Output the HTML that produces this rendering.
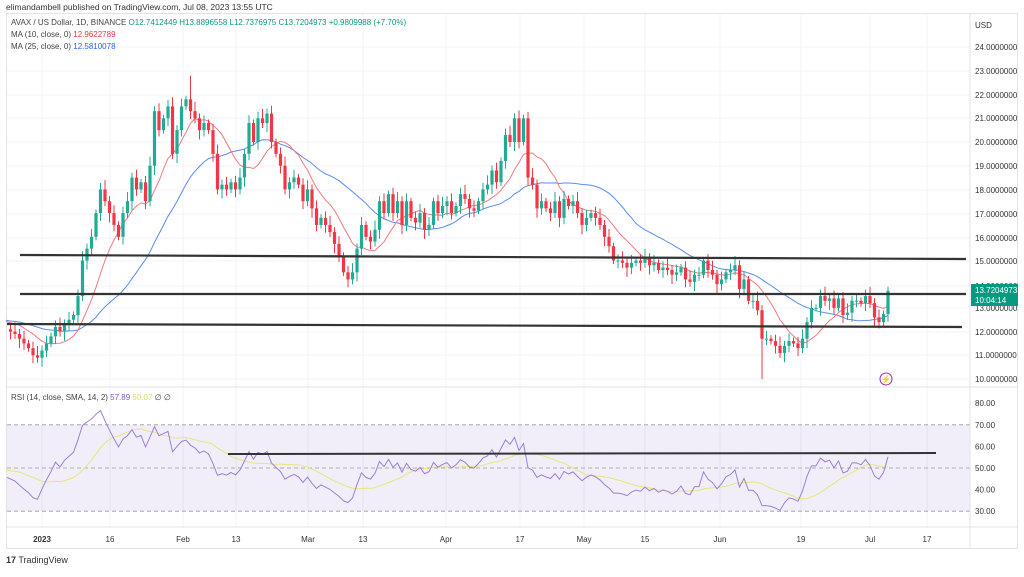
<!DOCTYPE html><html><head><meta charset="utf-8"><style>
body{margin:0;background:#fff;font-family:"Liberation Sans",sans-serif;}
svg text{font-family:"Liberation Sans",sans-serif;}
</style></head><body>
<svg id="s" width="1024" height="572" xmlns="http://www.w3.org/2000/svg">
<defs><clipPath id="cp"><rect x="7" y="388" width="963" height="139"/></clipPath></defs>
<rect width="1024" height="572" fill="#fff"/>
<text x="6" y="10" font-size="8.5" fill="#333">elimandambell published on TradingView.com, Jul 08, 2023 13:55 UTC</text>
<rect x="6.5" y="13.5" width="1011" height="535" fill="none" stroke="#e0e3eb"/>
<g id="g"></g>
<text x="11" y="25" font-size="8" fill="#444">AVAX / US Dollar, 1D, BINANCE  <tspan fill="#089981">O</tspan><tspan fill="#089981">12.7412449  H13.8896558  L12.7376975  C13.7204973  +0.9809988 (+7.70%)</tspan></text>
<text x="11" y="37" font-size="8" fill="#444">MA (10, close, 0) <tspan fill="#f23645">12.9622789</tspan></text>
<text x="11" y="49" font-size="8" fill="#444">MA (25, close, 0) <tspan fill="#2962ff">12.5810078</tspan></text>
<text x="11" y="400" font-size="8" fill="#444">RSI (14, close, SMA, 14, 2) <tspan fill="#7e57c2">57.89</tspan> <tspan fill="#d8d86a">50.07</tspan> ∅ ∅</text>
<text x="6" y="563" font-size="9" fill="#333"><tspan font-weight="bold">17</tspan> TradingView</text>
</svg>
<script>
var C=[12.1,12.0,11.9,11.7,11.5,11.3,11.0,10.9,
11.2,11.5,11.8,12.2,12.0,12.3,12.5,12.7,13.5,15.0,15.5,16,17,18,17.5,17,16.5,16,17,17.5,18.5,18,18.3,17.5,19,21.3,20.5,21,21.5,19.5,20.5,
21.5,21.8,21.3,21.0,20.5,20.8,20.5,19.5,18.0,18.2,18.0,18.3,18.0,18.5,19.5,20.8,20.0,21.0,20.8,21.2,20.0,19.5,19.0,18.0,18.3,18.5,18.2,17.5,
18.0,17.2,16.5,16.8,16.5,16.2,15.7,15.2,14.5,14.2,14.5,15.5,16.5,16.0,15.8,16.3,17.5,17.0,17.8,17.0,17.5,16.5,17.5,16.8,16.6,17.0,16.3,16.5,17.5,17.0,17.3,
17.5,17.0,17.3,17.8,17.6,17.2,17.1,17.5,18.0,18.2,18.8,18.3,19.2,20.3,20.0,21.0,20.0,21.0,18.5,18.2,17.2,17.5,17.2,17.0,17.5,16.8,17.6,17.3,17.5,17.0,
16.5,16.8,17.0,16.8,16.5,16.0,15.6,15.0,15.0,14.9,14.7,14.9,15.0,14.9,15.1,14.8,14.9,14.6,14.7,14.6,14.4,14.5,14.7,14.2,14.1,14.4,14.4,15.0,14.6,14.4,14.0,
14.2,14.5,14.6,14.8,13.8,14.2,13.3,13.3,12.9,11.7,11.7,11.6,11.4,11.1,11.4,11.6,11.5,11.3,11.7,12.4,13.0,13.0,13.5,13.3,13.4,13.0,13.4,12.7,12.8,13.3,
13.3,13.2,13.5,13.2,12.6,12.4,12.74,13.72];
var start=-8;
var X=d=>42+d*4.5, Y=p=>379-(p-10)*23.7, R=r=>468-(r-50)*2.16;
var h='';
var pl=[[24,47],[23,71],[22,95],[21,118],[20,142],[19,166],[18,190],[17,214],[16,238],[15,261],[14,286],[13,308],[12,332],[11,355],[10,379]];
var xl=[['2023',42],['16',110],['Feb',183],['13',236],['Mar',308],['13',363],['Apr',446],['17',520],['May',584],['15',645],['Jun',720],['19',801],['Jul',870],['17',927]];
xl.forEach(a=>h+='<line x1="'+a[1]+'" y1="14" x2="'+a[1]+'" y2="527" stroke="#f0f3fa"/>');
pl.forEach(a=>{h+='<line x1="7" y1="'+a[1]+'" x2="970" y2="'+a[1]+'" stroke="#f0f3fa"/><text x="975" y="'+(a[1]+3)+'" font-size="8" fill="#333">'+a[0]+'.0000000</text>';});
h+='<text x="975" y="28" font-size="8" fill="#333">USD</text>';
h+='<rect x="7" y="'+R(70)+'" width="963" height="'+(R(30)-R(70))+'" fill="#7e57c2" fill-opacity="0.1"/>';
[70,50,30].forEach(v=>h+='<line x1="7" y1="'+R(v)+'" x2="970" y2="'+R(v)+'" stroke="#999" stroke-dasharray="4,3" stroke-width="0.8"/>');
[80,70,60,50,40,30].forEach(v=>h+='<text x="975" y="'+(R(v)+3)+'" font-size="8" fill="#333">'+v+'.00</text>');
h+='<line x1="7" y1="387" x2="1018" y2="387" stroke="#e0e3eb"/><line x1="970" y1="14" x2="970" y2="548" stroke="#e0e3eb"/><line x1="7" y1="527" x2="1018" y2="527" stroke="#e0e3eb"/>';
xl.forEach(a=>h+='<text x="'+a[1]+'" y="542" font-size="8" fill="#333" text-anchor="middle"'+(a[0]=='2023'?' font-weight="bold"':'')+'>'+a[0]+'</text>');
var pad=[];for(var i=0;i<40;i++)pad.push(12.6+0.25*Math.sin(i*1.7)-i*0.004);var A=pad.concat(C);var P=40;
function ma(n,col){var p='';for(var i=0;i<C.length;i++){var k=i+P,s=0;for(var j=0;j<n;j++)s+=A[k-j];p+=(i?'L':'M')+X(start+i).toFixed(1)+','+Y(s/n).toFixed(1);}h+='<path d="'+p+'" fill="none" stroke="'+col+'" stroke-width="1"/>';}
ma(25,'#5b8cf0');ma(10,'#f07a80');
for(var i=1;i<C.length;i++){var o=C[i-1],c=C[i],x=X(start+i),up=c>=o,col=up?'#22ab94':'#f23645';
var hi=Math.max(o,c)+0.15+((i*7)%5)*0.06,lo=Math.min(o,c)-0.15-((i*3)%5)*0.06;
if(i==C.length-1)hi=13.89;if(start+i==160)lo=10.0;if(start+i==33)hi=22.8;
h+='<line x1="'+x+'" y1="'+Y(hi)+'" x2="'+x+'" y2="'+Y(lo)+'" stroke="'+col+'"/>';
var t=Y(Math.max(o,c)),b=Y(Math.min(o,c));h+='<rect x="'+(x-1.6)+'" y="'+t+'" width="3.2" height="'+Math.max(1,b-t)+'" fill="'+col+'"/>';}
var ag=0,al=0,rs=[0];for(var i=1;i<A.length;i++){var d=A[i]-A[i-1],g=Math.max(d,0),l=Math.max(-d,0);if(i<=14){ag+=g/14;al+=l/14;}else{ag=(ag*13+g)/14;al=(al*13+l)/14;}var r=al==0?100:100-100/(1+ag/al);rs.push(50+(r-50)*0.72);}
var rp='',sp='';for(var i=0;i<C.length;i++){var k=i+P,r=rs[k],s=0;for(var j=0;j<14;j++)s+=rs[k-j];s/=14;var x=X(start+i);rp+=(i?'L':'M')+x+','+R(r).toFixed(1);sp+=(i?'L':'M')+x+','+R(s).toFixed(1);}
h+='<g clip-path="url(#cp)"><path d="'+sp+'" fill="none" stroke="#e6e67a" stroke-width="1"/><path d="'+rp+'" fill="none" stroke="#9c7fd6" stroke-width="1"/></g>';
h+='<line x1="20" y1="255" x2="966" y2="259" stroke="#333" stroke-width="2.2"/><line x1="20" y1="294" x2="966" y2="294" stroke="#333" stroke-width="2.2"/><line x1="7" y1="324" x2="962" y2="327" stroke="#333" stroke-width="2.2"/><line x1="228" y1="454" x2="936" y2="453" stroke="#333" stroke-width="2"/>';
h+='<circle cx="886" cy="379" r="6" fill="none" stroke="#9c27b0"/><text x="886" y="382" font-size="8" fill="#9c27b0" text-anchor="middle">⚡</text>';
h+='<rect x="971" y="284" width="47" height="22" fill="#089981"/><text x="975" y="293" font-size="8" fill="#fff">13.7204973</text><text x="975" y="303" font-size="8" fill="#fff">10:04:14</text>';
document.getElementById('g').innerHTML=h;
</script>
</body></html>
